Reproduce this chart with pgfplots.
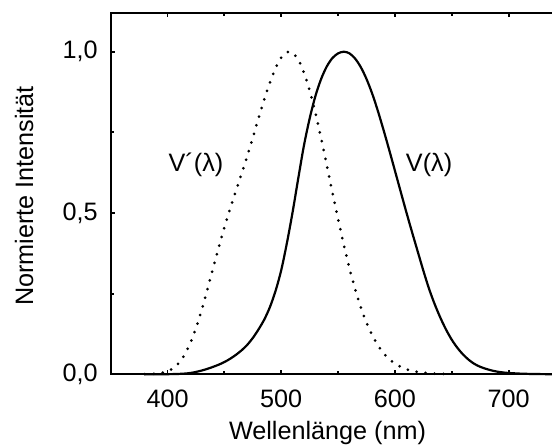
\documentclass[border=0pt]{standalone}
\usepackage{pgfplots}
\pgfplotsset{compat=1.18}
\usepackage{fontspec}
\setmainfont{Liberation Sans}
\begin{document}
\begin{tikzpicture}[font=\fontsize{12.6}{15}\selectfont]
\begin{axis}[
  scale only axis,
  width=227.4pt, height=180.8pt,
  xmin=350, xmax=750, ymin=0, ymax=1.121,
  axis line style={line width=1pt},
  xtick={400,500,600,700},
  minor xtick={450,550,650,750},
  ytick={0,0.5,1},
  minor ytick={0.25,0.75},
  tick align=inside,
  major tick length=2.2pt,
  minor tick length=1.6pt,
  every tick/.style={black, line width=0.9pt},
  /pgf/number format/assume math mode=true,
  yticklabel style={/pgf/number format/use comma, /pgf/number format/fixed, /pgf/number format/fixed zerofill, /pgf/number format/precision=1, inner sep=0pt, anchor=east, xshift=-6.3pt},
  xticklabel style={/pgf/number format/1000 sep={}, inner sep=0pt, anchor=north, yshift=-7.5pt},
  xlabel={Wellenlänge (nm)},
  ylabel={Normierte Intensität},
  xlabel style={at={(axis description cs:0.4768,0)}, anchor=base, inner sep=0pt, yshift=-32.85pt},
  ylabel style={at={(axis description cs:-0.1906,0.493)}, anchor=center, inner sep=0pt},
  clip=false,
]
\addplot[black, line width=1.1pt, smooth] coordinates {
(380,0.000039) (385,0.000064) (390,0.00012) (395,0.000217) (400,0.000396)
(405,0.00064) (410,0.00121) (415,0.00218) (420,0.004) (425,0.0073)
(430,0.0116) (435,0.01684) (440,0.023) (445,0.0298) (450,0.038)
(455,0.048) (460,0.06) (465,0.0739) (470,0.09098) (475,0.1126)
(480,0.13902) (485,0.1693) (490,0.20802) (495,0.2586) (500,0.323)
(505,0.4073) (510,0.503) (515,0.6082) (520,0.71) (525,0.7932)
(530,0.862) (535,0.91485) (540,0.954) (545,0.9803) (550,0.99495)
(555,1.0) (560,0.995) (565,0.9786) (570,0.952) (575,0.9154)
(580,0.87) (585,0.8163) (590,0.757) (595,0.6949) (600,0.631)
(605,0.5668) (610,0.503) (615,0.4412) (620,0.381) (625,0.321)
(630,0.265) (635,0.217) (640,0.175) (645,0.1382) (650,0.107)
(655,0.0816) (660,0.061) (665,0.04458) (670,0.032) (675,0.0232)
(680,0.017) (685,0.01192) (690,0.00821) (695,0.005723) (700,0.004102)
(710,0.002091) (720,0.001047) (730,0.00052) (740,0.000249) (750,0.00012)
};
\addplot[black, line width=1.5pt, line cap=round, dash pattern=on 0pt off 4.5pt, smooth] coordinates {
(380,0.000589) (385,0.001108) (390,0.002209) (395,0.00453) (400,0.00929)
(405,0.01852) (410,0.03484) (415,0.0604) (420,0.0966) (425,0.1436)
(430,0.1998) (435,0.2625) (440,0.3281) (445,0.3931) (450,0.455)
(455,0.513) (460,0.567) (465,0.62) (470,0.676) (475,0.734)
(480,0.793) (485,0.851) (490,0.904) (495,0.949) (500,0.982)
(505,0.998) (507,1.0) (510,0.997) (515,0.975) (520,0.935) (525,0.88)
(530,0.811) (535,0.733) (540,0.65) (545,0.564) (550,0.481)
(555,0.402) (560,0.3288) (565,0.2639) (570,0.2076) (575,0.1602)
(580,0.1212) (585,0.0899) (590,0.0655) (595,0.0469) (600,0.03315)
(605,0.0231) (610,0.01593) (615,0.01088) (620,0.00737) (625,0.00497)
(630,0.003335) (640,0.001497) (650,0.000677)
};
\node at (axis cs:425,0.649) {V´(λ)};
\node at (axis cs:630,0.649) {V(λ)};
\end{axis}
\pgfresetboundingbox
\useasboundingbox (-55.35pt,-36.85pt) rectangle (220.65pt,187.15pt);
\end{tikzpicture}
\end{document}
